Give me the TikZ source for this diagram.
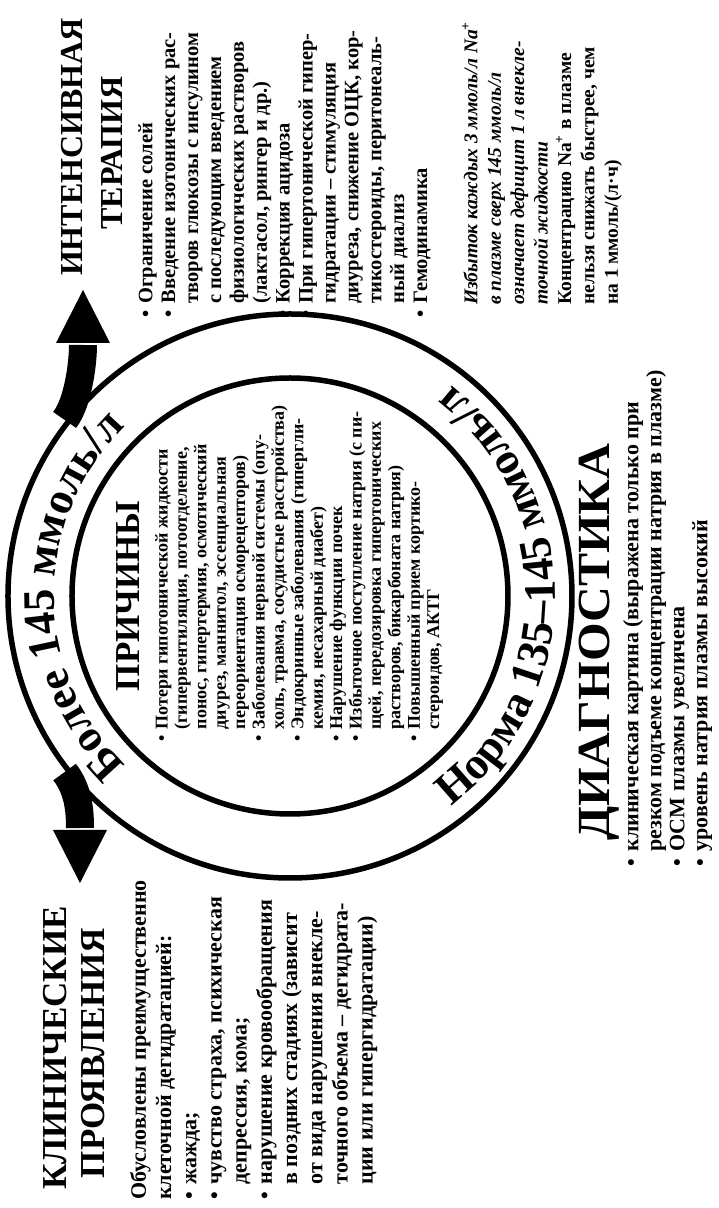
\documentclass[tikz,border=0pt]{standalone}
\usepackage{fontspec}
\setmainfont{Liberation Serif}
\usetikzlibrary{calc,decorations.text}
\newcommand\ringfnt{\fontsize{45}{45}\selectfont\bfseries}
\newcommand\bl{\makebox[0.7em][l]{•}}
\newcommand\ci{\hspace*{0.7em}}
\begin{document}
\begin{tikzpicture}[x=1pt,y=1pt,rotate=90,transform shape,
  ttl/.style={inner sep=0pt,anchor=base},
  blk/.style={inner sep=0pt,anchor=north west,align=left},
  ringline/.style={line width=5.5pt},
  arrbody/.style={line width=28pt}]
\fill[white] (0,0) rectangle (1208,718);
\useasboundingbox (0,0) rectangle (1208,718);

% ---- circle ring
\coordinate (C) at (612,428);
\draw[ringline] (C) circle[radius=282];
\draw[ringline] (C) circle[radius=218];

% ---- arrows
\coordinate (LA0) at ($(C)+(128:286)$);
\coordinate (LAb) at (380,638);
\coordinate (LAt) at (325,638);
\coordinate (LAu) at (378,665);
\coordinate (LAd) at (378,611);
\draw[arrbody] (LA0) .. controls +(218:22) and +(0:18) .. (LAb);
\fill (LAt) -- (LAu) -- (LAd) -- cycle;

\coordinate (RA0) at ($(C)+(52:286)$);
\coordinate (RAb) at (863,635);
\coordinate (RAt) at (918,635);
\coordinate (RAu) at (865,662);
\coordinate (RAd) at (865,608);
\draw[arrbody] (RA0) .. controls +(-38:22) and +(180:18) .. (RAb);
\fill (RAt) -- (RAu) -- (RAd) -- cycle;

% ---- ring texts
\path[decorate,decoration={text along path,text align=center,
  text={|\ringfnt|Более 145 ммоль/л}}]
  ($(C)+(152:236)$) arc[start angle=152,end angle=28,radius=236];
\path[decorate,decoration={text along path,text align=center,
  text={|\ringfnt|Норма 135–145 ммоль/л}}]
  ($(C)+(-154:265)$) arc[start angle=-154,end angle=-26,radius=265];

% ---- causes
\node[ttl,font=\fontsize{35}{35}\selectfont\bfseries] (pt) at (612,578) {ПРИЧИНЫ};
\node[blk,font=\fontsize{18}{19.4}\selectfont\bfseries] (pb) at (466,563) {%
\bl Потери гипотонической жидкости\\
\ci (гипервентиляция, потоотделение,\\
\ci понос, гипертермия, осмотический\\
\ci диурез, маннитол, эссенциальная\\
\ci переориентация осморецепторов)\\
\bl Заболевания нервной системы (опу-\\
\ci холь, травма, сосудистые расстройства)\\
\bl Эндокринные заболевания (гипергли-\\
\ci кемия, несахарный диабет)\\
\bl Нарушение функции почек\\
\bl Избыточное поступление натрия (с пи-\\
\ci щей, передозировка гипертонических\\
\ci растворов, бикарбоната натрия)\\
\bl Повышенный прием кортико-\\
\ci стероидов, АКТГ};

% ---- clinical
\node[ttl,font=\fontsize{35}{35}\selectfont\bfseries] (kt1) at (160,651) {КЛИНИЧЕСКИЕ};
\node[ttl,font=\fontsize{35}{35}\selectfont\bfseries] (kt2) at (155,613) {ПРОЯВЛЕНИЯ};
\node[blk,font=\fontsize{22}{25.2}\selectfont\bfseries] (kb) at (8,588) {%
Обусловлены преимущественно\\
клеточной дегидратацией:\\
\bl жажда;\\
\bl чувство страха, психическая\\
\ci депрессия, кома;\\
\bl нарушение кровообращения\\
\ci в поздних стадиях (зависит\\
\ci от вида нарушения внекле-\\
\ci точного объема – дегидрата-\\
\ci ции или гипергидратации)};

% ---- intensive therapy
\node[ttl,font=\fontsize{32}{32}\selectfont\bfseries] (it1) at (1061,635) {ИНТЕНСИВНАЯ};
\node[ttl,font=\fontsize{32}{32}\selectfont\bfseries] (it2) at (1055,595) {ТЕРАПИЯ};
\node[blk,font=\fontsize{20.5}{22.9}\selectfont\bfseries] (ib) at (890,580) {%
\bl Ограничение солей\\
\bl Введение изотонических рас-\\
\ci творов глюкозы с инсулином\\
\ci с последующим введением\\
\ci физиологических растворов\\
\ci (лактасол, рингер и др.)\\
\bl Коррекция ацидоза\\
\bl При гипертонической гипер-\\
\ci гидратации – стимуляция\\
\ci диуреза, снижение ОЦК, кор-\\
\ci тикостероиды, перитонеаль-\\
\ci ный диализ\\
\bl Гемодинамика};
\node[blk,font=\fontsize{19.5}{23.4}\selectfont\bfseries] (ic) at (903,256) {%
{\itshape Избыток каждых 3 ммоль/л Na\textsuperscript{+}}\\
{\itshape в плазме сверх 145 ммоль/л}\\
{\itshape означает дефицит 1 л внекле-}\\
{\itshape точной жидкости}\\
Концентрацию Na\textsuperscript{+} в плазме\\
нельзя снижать быстрее, чем\\
на 1 ммоль/(л·ч)};

% ---- diagnostics
\node[ttl,font=\fontsize{46}{46}\selectfont\bfseries,xscale=1.08] (dt) at (566,108) {ДИАГНОСТИКА};
\node[blk,font=\fontsize{22}{23}\selectfont\bfseries] (db) at (341,95) {%
\bl клиническая картина (выражена только при\\
\ci резком подъеме концентрации натрия в плазме)\\
\bl ОСМ плазмы увеличена\\
\bl уровень натрия плазмы высокий};
\end{tikzpicture}
\end{document}
